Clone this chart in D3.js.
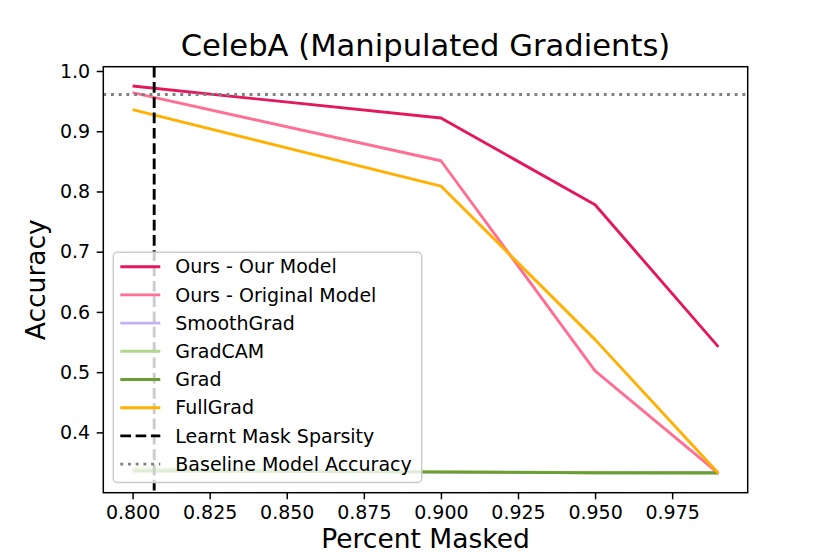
<!DOCTYPE html>
<head>
<meta charset="utf-8">
<title>CelebA (Manipulated Gradients)</title>
<style>
body { margin: 0; background: #fff; }
text { font-family: "DejaVu Sans", sans-serif; fill: #000; }
.axis text { font-size: 19px; }
.axis path, .axis line { stroke: #000; stroke-width: 1.5px; }
.line { fill: none; stroke-width: 2.9px; stroke-linejoin: round; }
</style>
</head>
<body>
<svg width="830" height="554"></svg>
<script src="https://cdn.jsdelivr.net/npm/d3@7"></script>
<script>
// percent masked values
let masked = [0.80, 0.90, 0.95, 0.99];

let ours = [0.975, 0.922, 0.778, 0.542],
    oursOriginal = [0.964, 0.851, 0.502, 0.332],
    smoothGrad = [0.338, 0.334, 0.333, 0.333],
    gradCam = [0.340, 0.335, 0.333, 0.332],
    grad = [0.336, 0.334, 0.333, 0.333],
    fullGrad = [0.936, 0.809, 0.554, 0.332];

let names = ["Ours - Our Model", "Ours - Original Model", "SmoothGrad", "GradCAM", "Grad", "FullGrad"],
    colors = ["#e3195b", "#ff6e93", "#c3b1f5", "#b0d78a", "#6a9e35", "#ffb000"];

let maskSparsity = 0.807,
    baselineAcc = 0.961;

let xTicks = [0.800, 0.825, 0.850, 0.875, 0.900, 0.925, 0.950, 0.975],
    yTicks = [0.4, 0.5, 0.6, 0.7, 0.8, 0.9, 1.0];

let series = [ours, oursOriginal, smoothGrad, gradCam, grad, fullGrad];

let svg = d3.select("svg"),
    margin = {top: 66.7, right: 82.3, bottom: 61.3, left: 103.3},
    width = +svg.attr("width") - margin.left - margin.right,
    height = +svg.attr("height") - margin.top - margin.bottom,
    g = svg.append("g").attr("transform", "translate(" + margin.left + "," + margin.top + ")");

// matplotlib style 5% margins around the data
function padded(ext) {
  let p = (ext[1] - ext[0]) * 0.05;
  return [ext[0] - p, ext[1] + p];
}

let x = d3.scaleLinear()
    .domain(padded(d3.extent(masked)))
    .range([0, width]);
let y = d3.scaleLinear()
    .domain(padded(d3.extent(series.flat())))
    .range([height, 0]);

let line = d3.line()
    .x((d, i) => x(masked[i]))
    .y(d => y(d));

g.append("defs").append("clipPath").attr("id", "clip")
    .append("rect").attr("width", width).attr("height", height);

let plot = g.append("g").attr("clip-path", "url(#clip)");

series.forEach((s, k) => {
  plot.append("path")
      .datum(s)
      .attr("class", "line")
      .attr("stroke", colors[k])
      .attr("d", line);
});

plot.append("line")
    .attr("x1", x(maskSparsity)).attr("x2", x(maskSparsity))
    .attr("y1", 0).attr("y2", height)
    .attr("stroke", "#000").attr("stroke-width", 2.9)
    .attr("stroke-dasharray", "10.7,4.6");

plot.append("line")
    .attr("x1", 0).attr("x2", width)
    .attr("y1", y(baselineAcc)).attr("y2", y(baselineAcc))
    .attr("stroke", "#808080").attr("stroke-width", 2.9)
    .attr("stroke-dasharray", "2.9,4.8");

g.append("g")
    .attr("class", "axis")
    .attr("transform", "translate(0," + height + ")")
    .call(d3.axisBottom(x).tickValues(xTicks).tickFormat(d3.format(".3f"))
      .tickSize(6.6).tickPadding(6.6).tickSizeOuter(0))
    .call(a => a.select(".domain").remove());

g.append("g")
    .attr("class", "axis")
    .call(d3.axisLeft(y).tickValues(yTicks).tickFormat(d3.format(".1f"))
      .tickSize(6.6).tickPadding(6.6).tickSizeOuter(0))
    .call(a => a.select(".domain").remove());

g.append("rect")
    .attr("width", width).attr("height", height)
    .attr("fill", "none").attr("stroke", "#000").attr("stroke-width", 1.5);

// legend
let legendItems = names.map((n, k) => ({label: n, color: colors[k], dash: null}))
    .concat([
      {label: "Learnt Mask Sparsity", color: "#000", dash: "10.7,4.6"},
      {label: "Baseline Model Accuracy", color: "#808080", dash: "2.9,4.8"}
    ]);

let lg = g.append("g").attr("transform", "translate(10,185.6)");
lg.append("rect")
    .attr("width", 308.4).attr("height", 230.2)
    .attr("rx", 4).attr("ry", 4)
    .attr("fill", "#fff").attr("fill-opacity", 0.8)
    .attr("stroke", "#cccccc").attr("stroke-width", 1.5);

let row = lg.selectAll(".item")
    .data(legendItems)
    .enter().append("g")
    .attr("transform", (d, i) => "translate(0," + (14.4 + i * 28.2) + ")");

row.append("line")
    .attr("x1", 7).attr("x2", 47)
    .attr("stroke", d => d.color)
    .attr("stroke-width", 2.9)
    .attr("stroke-dasharray", d => d.dash);

row.append("text")
    .attr("x", 62)
    .attr("dy", "0.35em")
    .style("font-size", "19px")
    .text(d => d.label);

svg.append("text")
    .attr("x", margin.left + width / 2)
    .attr("y", 56)
    .attr("text-anchor", "middle")
    .style("font-size", "30.6px")
    .text("CelebA (Manipulated Gradients)");

svg.append("text")
    .attr("x", margin.left + width / 2)
    .attr("y", 548)
    .attr("text-anchor", "middle")
    .style("font-size", "26.5px")
    .text("Percent Masked");

svg.append("text")
    .attr("transform", "translate(45," + (margin.top + height / 2) + ") rotate(-90)")
    .attr("text-anchor", "middle")
    .style("font-size", "26.5px")
    .text("Accuracy");
</script>
</body>
